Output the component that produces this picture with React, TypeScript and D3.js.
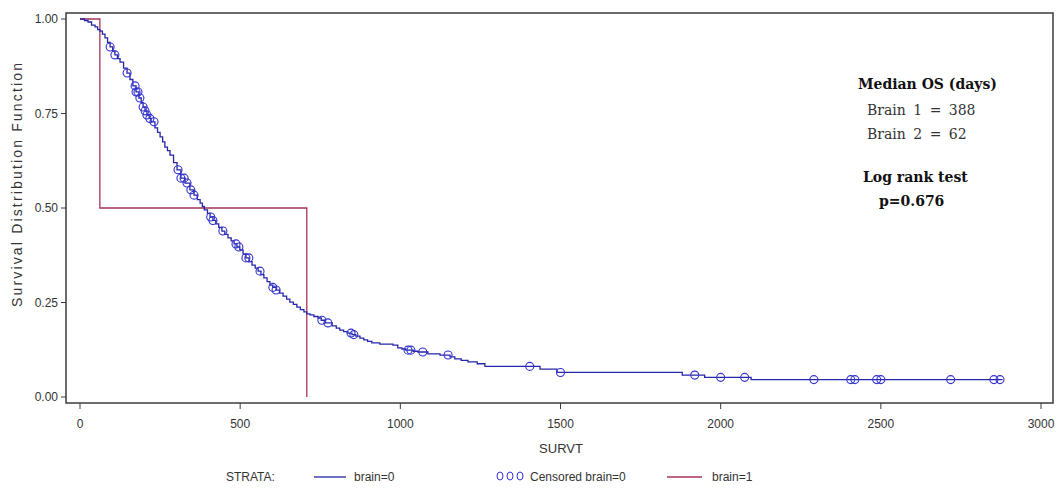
import React from 'react';
import * as d3 from 'd3';

// brain=0 Kaplan-Meier steps (time in days, survival after the drop)
const brain0Time = [
  0, 14, 25, 36, 47, 55, 62, 70, 78, 86, 94, 102, 109, 117, 125, 136, 147, 156, 165, 175,
  184, 191, 197, 203, 209, 216, 222, 234, 242, 250, 258, 265, 273, 281, 292, 303, 315, 328,
  343, 356, 366, 375, 382, 388, 398, 406, 415, 424, 433, 443, 452, 462, 472, 481, 490, 499,
  509, 518, 528, 537, 547, 556, 565, 574, 584, 593, 602, 612, 623, 634, 645, 655, 666, 677,
  688, 699, 708, 718, 730, 743, 753, 765, 787, 800, 811, 823, 836, 849, 861, 874, 886, 898,
  911, 936, 977, 992, 1005, 1017, 1040, 1055, 1086, 1124, 1155, 1170, 1190, 1211, 1240,
  1264, 1436, 1489, 1880, 1950, 2095, 2880,
];
const brain0Surv = [
  1.0, 0.996, 0.992, 0.984, 0.979, 0.972, 0.968, 0.96, 0.95, 0.938, 0.926, 0.915, 0.905,
  0.895, 0.886, 0.87, 0.857, 0.84, 0.823, 0.807, 0.791, 0.779, 0.767, 0.757, 0.746, 0.737,
  0.728, 0.712, 0.7, 0.688, 0.675, 0.661, 0.652, 0.64, 0.62, 0.601, 0.579, 0.566, 0.548,
  0.534, 0.522, 0.513, 0.504, 0.495, 0.486, 0.476, 0.467, 0.458, 0.449, 0.439, 0.43, 0.421,
  0.413, 0.405, 0.397, 0.389, 0.378, 0.368, 0.358, 0.349, 0.341, 0.333, 0.324, 0.315, 0.305,
  0.296, 0.29, 0.283, 0.275, 0.267, 0.259, 0.251, 0.245, 0.238, 0.231, 0.225, 0.22, 0.217,
  0.213, 0.209, 0.203, 0.196, 0.188, 0.182, 0.177, 0.173, 0.169, 0.165, 0.161, 0.156, 0.151,
  0.147, 0.143, 0.14, 0.137, 0.13, 0.127, 0.124, 0.121, 0.119, 0.114, 0.111, 0.106, 0.101,
  0.097, 0.093, 0.088, 0.081, 0.074, 0.065, 0.058, 0.052, 0.046, 0.046,
];
const brain0Censored = [
  94, 109, 147, 172, 175, 181, 187, 197, 203, 209, 218, 231, 306, 315, 325, 334, 346, 356,
  408, 415, 446, 487, 496, 518, 527, 562, 602, 612, 755, 774, 846, 855, 1024, 1033, 1070,
  1149, 1404, 1500, 1919, 2000, 2075, 2291, 2406, 2419, 2487, 2500, 2718, 2853, 2872,
];

// brain=1 steps
const brain1Time = [0, 62, 708];
const brain1Surv = [1.0, 0.5, 0.0];

const xTicks = [0, 500, 1000, 1500, 2000, 2500, 3000];
const yTicks = [0, 0.25, 0.5, 0.75, 1.0];

const noteLines = ['Median OS (days)', 'Brain 1 = 388', 'Brain 2 = 62', 'Log rank test', 'p=0.676'];

const W = 1058;
const H = 490;
const frame = { left: 66, top: 13, right: 1053, bottom: 403 };
const blue = '#2626a8';
const circleBlue = '#3030d0';
const red = '#a3345a';
const axisColor = '#3c3c3c';
const sans = '"Liberation Sans", Arial, sans-serif';
const serif = '"DejaVu Serif", serif';

export default function App() {
  const x = d3.scaleLinear().domain([0, 3000]).range([80, 1041]);
  const y = d3.scaleLinear().domain([0, 1]).range([397, 19]);

  const line = d3
    .line<[number, number]>()
    .x((d) => x(d[0]))
    .y((d) => y(d[1]))
    .curve(d3.curveStepAfter);

  const pts0 = brain0Time.map((t, i) => [t, brain0Surv[i]] as [number, number]);
  const pts1 = brain1Time.map((t, i) => [t, brain1Surv[i]] as [number, number]);

  const bisect = d3.bisector((d: number) => d).right;
  const survAt = (t: number) => brain0Surv[Math.max(0, bisect(brain0Time, t) - 1)];

  return (
    <svg width={W} height={H} style={{ position: 'absolute', left: 0, top: 0, background: '#fff' }}>
      {/* frame */}
      <rect
        x={frame.left}
        y={frame.top}
        width={frame.right - frame.left}
        height={frame.bottom - frame.top}
        fill="none"
        stroke={axisColor}
        strokeWidth={1.5}
      />

      {/* y axis */}
      {yTicks.map((v) => (
        <g key={v}>
          <line x1={frame.left - 5} x2={frame.left} y1={y(v)} y2={y(v)} stroke={axisColor} />
          <text
            x={frame.left - 8}
            y={y(v) + 4}
            textAnchor="end"
            fontFamily={sans}
            fontSize={12}
            fill="#333"
          >
            {d3.format('.2f')(v)}
          </text>
        </g>
      ))}
      <text
        transform={`translate(22, 185) rotate(-90)`}
        textAnchor="middle"
        fontFamily={sans}
        fontSize={14}
        textLength={244}
        lengthAdjust="spacing"
        fill="#333"
      >
        Survival Distribution Function
      </text>

      {/* x axis */}
      {xTicks.map((v) => (
        <g key={v}>
          <line x1={x(v)} x2={x(v)} y1={frame.bottom} y2={frame.bottom + 6} stroke={axisColor} />
          <text x={x(v)} y={428} textAnchor="middle" fontFamily={sans} fontSize={12} fill="#333">
            {v}
          </text>
        </g>
      ))}
      <text x={561} y={453} textAnchor="middle" fontFamily={sans} fontSize={13} fill="#333">
        SURVT
      </text>

      {/* curves */}
      <path d={line(pts1) ?? ''} fill="none" stroke={red} strokeWidth={1.3} />
      <path d={line(pts0) ?? ''} fill="none" stroke={blue} strokeWidth={1.3} />
      {brain0Censored.map((t, i) => (
        <circle
          key={i}
          cx={x(t)}
          cy={y(survAt(t))}
          r={4}
          fill="none"
          stroke={circleBlue}
          strokeWidth={1.1}
        />
      ))}

      {/* annotation */}
      <text x={858} y={89} fontFamily={serif} fontSize={14} fontWeight="bold" fill="#111">
        {noteLines[0]}
      </text>
      <text x={867} y={115} fontFamily={serif} fontSize={14} wordSpacing={3} fill="#333">
        {noteLines[1]}
      </text>
      <text x={867} y={139} fontFamily={serif} fontSize={14} wordSpacing={3} fill="#333">
        {noteLines[2]}
      </text>
      <text x={863} y={182} fontFamily={serif} fontSize={14} fontWeight="bold" fill="#111">
        {noteLines[3]}
      </text>
      <text x={879} y={206} fontFamily={serif} fontSize={14} fontWeight="bold" fill="#111">
        {noteLines[4]}
      </text>

      {/* legend */}
      <g fontFamily={sans} fontSize={12} fill="#333">
        <text x={226} y={481}>STRATA:</text>
        <line x1={314} x2={346} y1={477} y2={477} stroke={blue} strokeWidth={1.3} />
        <text x={354} y={481}>brain=0</text>
        {[0, 1, 2].map((k) => (
          <ellipse
            key={k}
            cx={500 + k * 10}
            cy={476}
            rx={3}
            ry={4}
            fill="none"
            stroke={circleBlue}
            strokeWidth={1}
          />
        ))}
        <text x={530} y={481}>Censored brain=0</text>
        <line x1={667} x2={702} y1={477} y2={477} stroke={red} strokeWidth={1.3} />
        <text x={712} y={481}>brain=1</text>
      </g>
    </svg>
  );
}
